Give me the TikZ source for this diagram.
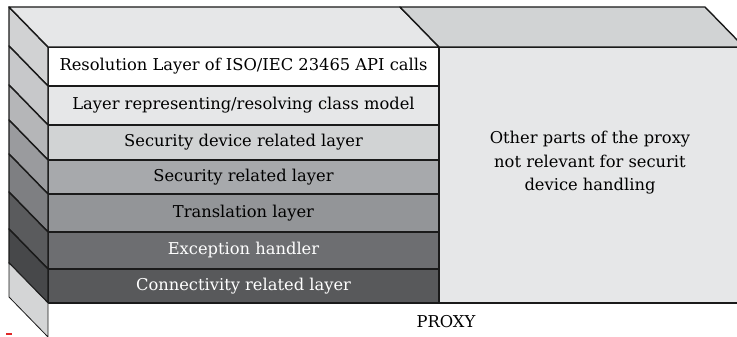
\documentclass[tikz,border=0pt]{standalone}
\usepackage{fontspec}
\setmainfont{DejaVu Serif}
\usetikzlibrary{calc}

% fills of the layer stack: front faces and their darker side faces
\definecolor{edge}{HTML}{1A1A1A}
\definecolor{fA}{HTML}{FFFFFF}\definecolor{sA}{HTML}{D1D2D3}
\definecolor{fB}{HTML}{E6E7E8}\definecolor{sB}{HTML}{C7C8CA}
\definecolor{fC}{HTML}{D1D3D4}\definecolor{sC}{HTML}{B5B6B8}
\definecolor{fD}{HTML}{A7A9AC}\definecolor{sD}{HTML}{9A9B9E}
\definecolor{fE}{HTML}{939598}\definecolor{sE}{HTML}{7E7F82}
\definecolor{fF}{HTML}{6D6E71}\definecolor{sF}{HTML}{5A5B5D}
\definecolor{fG}{HTML}{58595B}\definecolor{sG}{HTML}{47484A}
\definecolor{topA}{HTML}{E6E7E8}
\definecolor{topB}{HTML}{D1D3D4}
\definecolor{restfill}{HTML}{E6E7E8}
\definecolor{floorfill}{HTML}{D4D5D6}
\definecolor{tickred}{HTML}{E02828}

\begin{document}
\begin{tikzpicture}[x=1pt,y=-1pt,
  txt/.style={font=\fontsize{16.3}{23.5}\selectfont},
  layer/.style={txt, draw=edge, line width=1.4pt, inner sep=0pt, outer sep=0pt,
    anchor=north west, minimum width=391pt},
  face/.style={draw=edge, line width=1.4pt, line join=round},
]
\useasboundingbox (0,0) rectangle (737,337);
\clip (0,0) rectangle (737,337);

% front faces of the seven layers
\node[layer, fill=fA, minimum height=39pt] (l1) at (48,47) {Resolution Layer of ISO/IEC 23465 API calls};
\node[layer, fill=fB, minimum height=39pt] (l2) at (48,86) {Layer representing/resolving class model};
\node[layer, fill=fC, minimum height=35pt] (l3) at (48,125) {Security device related layer};
\node[layer, fill=fD, minimum height=34pt] (l4) at (48,160) {Security related layer};
\node[layer, fill=fE, minimum height=38pt] (l5) at (48,194) {Translation layer};
\node[layer, fill=fF, minimum height=37pt, text=white] (l6) at (48,232) {Exception handler};
\node[layer, fill=fG, minimum height=34pt, text=white] (l7) at (48,269) {Connectivity related layer};

% remaining front face of the proxy
\node[draw=edge, line width=1.4pt, fill=restfill, inner sep=0pt, outer sep=0pt,
  anchor=north west, minimum width=305pt, minimum height=256pt] (rest) at (439,47) {};
\node[txt, align=center] (otherlbl) at (590,163)
  {Other parts of the proxy\\not relevant for securit\\device handling};

% side faces of the layers
\foreach \l/\c in {l1/sA,l2/sB,l3/sC,l4/sD,l5/sE,l6/sF,l7/sG}{
  \draw[face, fill=\c] (\l.north west) -- ++(-39,-40)
    -- ($(\l.south west)+(-39,-40)$) -- (\l.south west) -- cycle;
}

% top faces
\draw[face, fill=topA] (l1.north west) -- ++(-39,-40)
  -- ($(l1.north east)+(-39,-40)$) -- (l1.north east) -- cycle;
\draw[face, fill=topB] (rest.north west) -- ++(-39,-40)
  -- ($(rest.north east)+(-39,-40)$) -- (rest.north east) -- cycle;

% side face of the proxy below the stack
\draw[draw=edge, line width=0.8pt, fill=floorfill] (l7.south west) -- ++(-39,-40)
  -- ++(0,34) -- ++(39,40) -- cycle;

\node[txt] (proxy) at (446,322) {PROXY};

% small red tick
\draw[tickred, line width=1.4pt] (6,334) -- (12,334);
\end{tikzpicture}
\end{document}
